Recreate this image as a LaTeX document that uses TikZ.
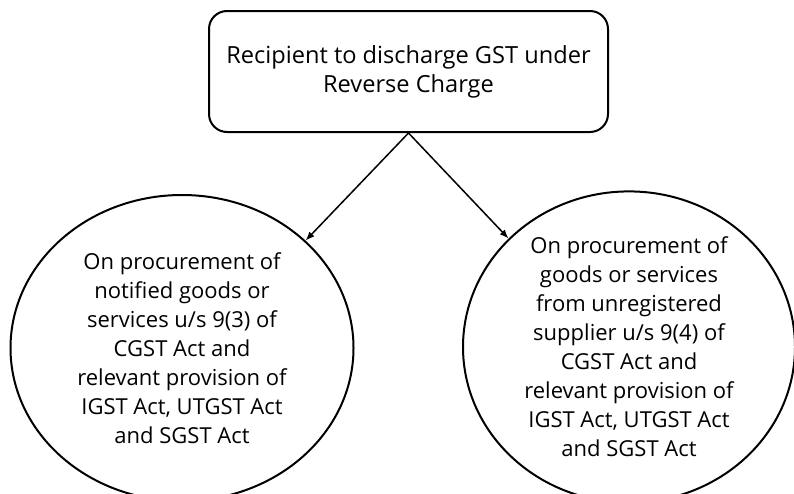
\documentclass[tikz,border=0pt]{standalone}
\usepackage{fontspec}
\setmainfont{Open Sans}
\usetikzlibrary{arrows,arrows.meta,shapes.geometric}

\begin{document}
\begin{tikzpicture}[x=1pt,y=-1pt]
        \tikzstyle{every node}=[font=\fontsize{22}{29}\selectfont,align=center]
        \tikzstyle{case}=[ellipse,draw,line width=2pt,inner sep=0pt]
        \useasboundingbox (0,0) rectangle (794,493);
        \clip (0,0) rectangle (794,493);

        %%% Top
        \node[draw,line width=2pt,rounded corners=18pt,minimum width=399pt,minimum height=121pt,font=\fontsize{23.6}{29}\selectfont] (recip) at (408.5,71.5) {Recipient to discharge GST under\\Reverse Charge};

        %%% Cases
        \node[case,minimum width=343pt,minimum height=306pt] (notified) at (182,348) {On procurement of\\notified goods or\\services u/s 9(3) of\\CGST Act and\\relevant provision of\\IGST Act, UTGST Act\\and SGST Act};
        \node[case,minimum width=332pt,minimum height=300pt] (unreg) at (629,347) {On procurement of\\goods or services\\from unregistered\\supplier u/s 9(4) of\\CGST Act and\\relevant provision of\\IGST Act, UTGST Act\\and SGST Act};

        \draw[-{Latex[length=9pt,width=7pt]},line width=1.5pt] (recip.south) -- (notified.41);
        \draw[-{Latex[length=9pt,width=7pt]},line width=1.5pt] (recip.south) -- (unreg.138);
    \end{tikzpicture}
\end{document}
